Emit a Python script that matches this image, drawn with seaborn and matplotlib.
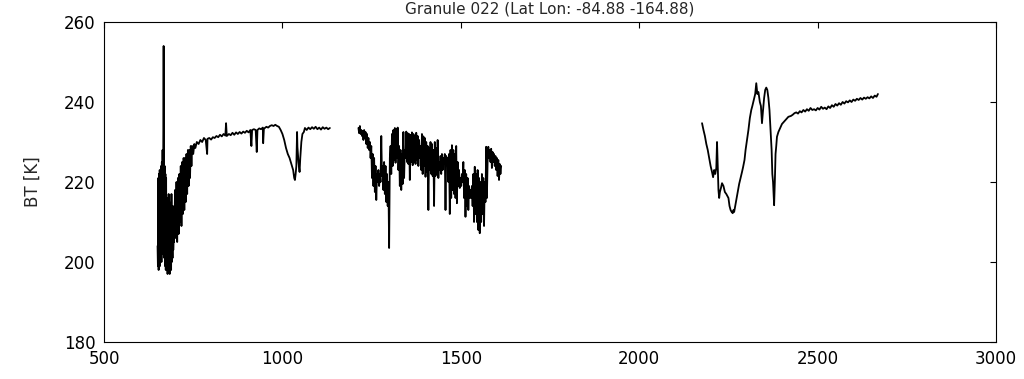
import numpy as np
import pandas as pd
import seaborn as sns
from matplotlib import pyplot as plt

title = "Granule 022 (Lat Lon: -84.88 -164.88)"

# band 1 (long-wave window / CO2)
wn1 = [650, 651, 652, 653, 654, 655, 656, 657, 658, 659, 660, 661, 662, 663, 664,
       665, 666, 667, 668, 669, 670, 671, 672, 673, 674, 675,
       676, 677, 678, 679, 680, 681, 682, 683, 684, 685, 686, 687, 688, 689, 690,
       691, 692, 693, 694, 695, 696,
       697, 699, 701, 703, 705, 707, 709, 711, 713, 715, 717, 719, 721, 723, 725,
       727, 729, 731, 733, 735, 737, 739, 741, 743, 745, 747,
       750, 753, 756, 760, 765, 770, 775, 780, 785, 789, 790, 795, 800, 805, 810,
       815, 820, 825, 830, 835, 840, 842, 844, 850, 855, 860, 865, 870, 875, 880,
       885, 890, 895, 900, 905, 910, 913, 915, 920, 925, 928, 930, 935, 940, 945,
       946, 948, 955, 960, 965, 970, 975, 980, 985, 990, 995, 1000, 1005, 1010,
       1015, 1020, 1025, 1030, 1033, 1035, 1037, 1039, 1041, 1042, 1045, 1048,
       1050, 1053, 1056, 1060, 1063, 1068, 1073, 1078, 1083, 1088, 1093, 1098,
       1103, 1108, 1113, 1118, 1123, 1128, 1133]
bt1 = [204, 199, 221, 198, 222, 200, 223, 199, 222, 201, 224, 200, 225, 202, 228,
       203, 230, 254, 226, 201, 224, 199, 222, 198, 221, 200,
       198, 214, 197, 216, 198, 217, 199, 215, 197, 212, 199, 210, 198, 217, 200,
       208, 201, 214, 203, 206, 205,
       207, 218, 206, 220, 205, 221, 207, 222, 210, 224, 209, 225, 212, 226, 213,
       226, 215, 227, 217, 228, 219, 228, 221, 229, 224, 229,
       227, 229.5, 228.5, 230, 229.5, 230.5, 230, 231, 230.5, 227, 230.8, 231, 230.6,
       231.2, 231, 231.5, 231.2, 231.8, 231.4, 232, 231.6, 234.7, 231.5, 232, 231.7,
       232.3, 231.8, 232.4, 232, 232.5, 232.1, 232.6, 232.3, 232.8, 232.4, 233, 229,
       233, 233.2, 233, 227.5, 233, 233.4, 233.2, 233.6, 229.7, 233.3, 233.8, 233.6,
       234, 234.2, 234, 234.3, 234, 233.8, 233, 232, 230.5, 228.5, 227, 226, 224.5,
       223, 221, 220.5, 222, 224, 232.5, 228.8, 225, 222.5, 226, 230, 232, 232.5,
       233.5, 233, 233.6, 233.2, 233.7, 233.3, 233.8, 233.2, 233.6, 233.1, 233.7,
       233.3, 233.6, 233.2, 233.5]

# band 2 (water vapour)
wn2 = [1213, 1215, 1217, 1219, 1221, 1223, 1225, 1227, 1229, 1231, 1233, 1235, 1237,
       1239, 1241, 1243, 1245, 1247, 1249, 1251, 1253, 1255, 1257, 1259, 1261, 1263,
       1265, 1267, 1269, 1271, 1273, 1275, 1277, 1279, 1281, 1283, 1285, 1287, 1289,
       1291, 1293, 1295, 1297, 1299, 1301, 1303, 1305, 1307, 1309, 1311, 1313, 1315,
       1317, 1319, 1321, 1323, 1325, 1327, 1329, 1331, 1333, 1335, 1337, 1339, 1341,
       1343, 1345, 1347, 1349, 1351, 1353, 1355, 1357, 1359, 1361, 1363, 1365, 1367,
       1369, 1371, 1373, 1375, 1377, 1379, 1381, 1383, 1385, 1387, 1389, 1391, 1393,
       1395, 1397, 1399, 1401, 1403, 1405, 1407, 1409, 1411, 1413, 1415, 1417, 1419,
       1421, 1423, 1425, 1427, 1429, 1431, 1433, 1435, 1437, 1439, 1441, 1443, 1445,
       1447, 1449, 1451, 1453, 1455, 1457, 1459, 1461, 1463, 1465, 1467, 1469, 1471,
       1473, 1475, 1477, 1479, 1481, 1483, 1485, 1487, 1489, 1491, 1493, 1495, 1497,
       1499, 1501, 1503, 1505, 1507, 1509, 1511, 1513, 1515, 1517, 1519, 1521, 1523,
       1525, 1527, 1529, 1531, 1533, 1535, 1537, 1539, 1541, 1543, 1545, 1547, 1549,
       1551, 1553, 1555, 1557, 1559, 1561, 1563, 1565, 1567, 1569, 1571, 1573, 1575,
       1577, 1579, 1581, 1583, 1585, 1587, 1589, 1591, 1593, 1595, 1597, 1599, 1601,
       1603, 1605, 1607, 1609, 1611, 1613]
bt2 = [233.5, 232.2, 234, 232, 233, 231.5, 232.8, 230.5, 233, 231, 232.5, 229.5, 232,
       228.5, 231, 228, 230, 226, 229, 221, 227, 219, 226, 217.5, 224, 215.5,
       222, 220, 223, 219, 222, 220, 231.5, 221.5, 224, 218, 225, 217, 224,
       215, 222, 214, 220, 203.5, 226, 229, 222, 232, 224, 233, 225.5, 233.5,
       224.8, 233.2, 226, 233.6, 223, 229, 219, 228, 218, 227, 219.5, 232.5, 221,
       228, 226, 232.6, 225, 232.2, 224.5, 232, 220.5, 231.8, 225, 232.4, 224.2, 232,
       225, 231.6, 224.5, 232.3, 225.5, 231.5, 224, 230.5, 226, 229, 223, 232, 222,
       231.4, 224, 231, 221.3, 230, 222.5, 229, 213, 228.5, 223, 230, 222, 229.5,
       221.5, 228, 214, 230, 221.5, 228.5, 222, 230.5, 221, 225, 223, 226.5, 222,
       227, 223, 226, 224.5, 227, 213, 226.5, 224.5, 226, 220, 227, 212, 228,
       216, 229.2, 218, 228, 217, 227, 216, 229, 214.7, 225, 219, 223, 218.5,
       221, 219, 222, 220, 225, 216, 223, 211.3, 222, 214, 221, 213, 219,
       216, 218, 216, 219, 214, 222, 210, 223.8, 212, 222, 210, 223, 208,
       221, 207.2, 220, 210, 222, 212, 221, 209, 220, 215, 228.8, 216, 225,
       228.8, 226, 228, 225, 228.3, 223.5, 227.5, 225, 227, 224, 226.5, 223, 226,
       221.5, 225.5, 220.5, 224.5, 222, 224]

# band 3 (short-wave)
wn3 = [2176, 2180, 2184, 2188, 2192, 2196, 2200, 2204, 2207, 2210, 2213, 2216, 2218,
       2220, 2222, 2224, 2226, 2229, 2232, 2236, 2240, 2244, 2247, 2250, 2253, 2256,
       2259, 2262, 2264, 2266, 2269, 2272, 2276, 2280, 2284, 2288, 2291, 2295, 2298,
       2302, 2306, 2310, 2314, 2317, 2321, 2325, 2328, 2331, 2334, 2338, 2341, 2344,
       2347, 2350, 2353, 2356, 2359, 2362, 2365, 2368, 2371, 2373, 2375, 2378, 2380,
       2382, 2384, 2386, 2390, 2395, 2400, 2405, 2410, 2415, 2418, 2425, 2430, 2435,
       2440, 2445, 2450, 2455, 2460, 2465, 2470, 2475, 2480, 2485, 2490, 2495, 2500,
       2505, 2510, 2515, 2520, 2525, 2530, 2535, 2540, 2545, 2550, 2555, 2560, 2565,
       2570, 2575, 2580, 2585, 2590, 2595, 2600, 2605, 2610, 2615, 2620, 2625, 2630,
       2635, 2640, 2645, 2650, 2655, 2660, 2665, 2669]
bt3 = [234.7, 233, 231.5, 229.5, 228, 226, 224, 222.5, 221.2, 223, 222, 223.5, 230,
       224, 218, 216, 217.5, 218.5, 219.7, 219, 217.5, 217, 216.5, 216, 214, 213,
       212.5, 212.2, 213, 212.5, 214, 215.5, 217.5, 219.5, 221, 222.5, 223.7, 225.5, 228,
       230.5, 233, 236, 238, 239, 240.5, 242, 244.7, 242, 242.5, 240, 239, 234.7,
       238, 241, 243, 243.6, 243, 241, 238, 233, 228, 222, 220, 214.2, 220,
       227, 229, 231.3, 232.5, 233.5, 234.5, 235, 235.5, 236, 236.3, 236.5, 236.8, 237.2,
       237.4, 237.1, 237.7, 237.4, 238, 237.6, 238.2, 237.8, 238.5, 238, 238.2, 237.9, 238.5,
       238.1, 238.8, 238.3, 238.6, 238.2, 238.9, 238.5, 239.2, 238.8, 239.5, 239.1, 239.7, 239.3,
       240, 239.6, 240.2, 239.9, 240.4, 240, 240.6, 240.3, 240.8, 240.5, 241, 240.6, 241.1,
       240.8, 241.2, 240.9, 241.4, 241, 241.6, 241.3, 242]

df = pd.concat([
    pd.DataFrame({"wn": wn1, "bt": bt1, "band": 1}),
    pd.DataFrame({"wn": wn2, "bt": bt2, "band": 2}),
    pd.DataFrame({"wn": wn3, "bt": bt3, "band": 3}),
])

sns.set_style("white")
plt.rcParams["font.family"] = ["DejaVu Sans"]

fig = plt.figure(figsize=(10.24, 3.79), dpi=100)
ax = fig.add_axes([0.1016, 0.0976, 0.8711, 0.8444])

sns.lineplot(
    data=df, x="wn", y="bt", units="band", estimator=None, sort=False,
    color="black", linewidth=1.3, ax=ax,
)

ax.set_xlim(500, 3000)
ax.set_ylim(180, 260)
ax.set_xticks(np.arange(500, 3001, 500))
ax.set_yticks(np.arange(180, 261, 20))
ax.tick_params(direction="in", length=4, width=0.8, top=True, right=True,
               labelsize=12, colors="black", pad=6)
for s in ax.spines.values():
    s.set_color("black")
    s.set_linewidth(0.8)
ax.set_xlabel("")
ax.set_ylabel("BT [K]", fontsize=12, labelpad=16)

# title sits in the narrow strip above the axes
fig.text(0.537, 0.997, title, ha="center", va="top", fontsize=11)

fig.savefig("out.png", dpi=100, facecolor="white")
